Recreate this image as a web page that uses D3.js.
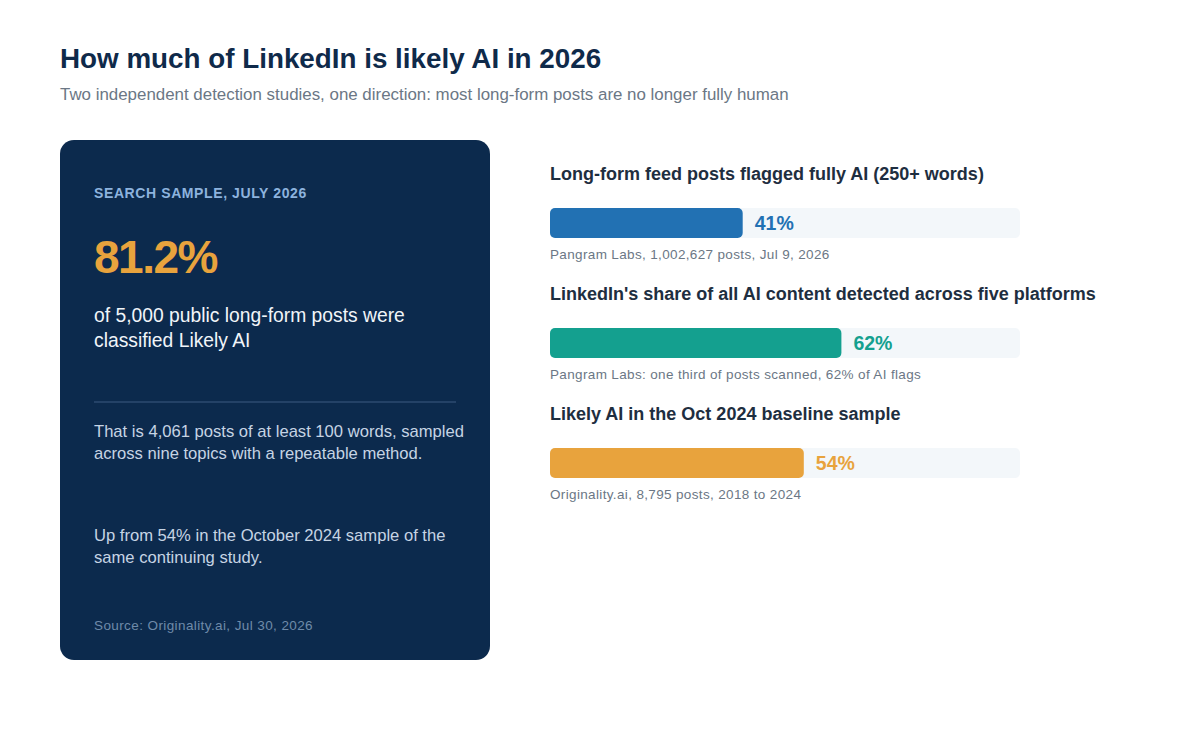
<!DOCTYPE html>
<html><head><meta charset="utf-8">
<script src="https://cdn.jsdelivr.net/npm/d3@7"></script>
<style>body{margin:0;background:#fff;}svg{display:block;font-family:"Liberation Sans",Arial,Helvetica,sans-serif;}</style>
</head><body>
<svg id="c" width="1200" height="750"></svg>
<script>
const titleText = "How much of LinkedIn is likely AI in 2026";
const subtitleText = "Two independent detection studies, one direction: most long-form posts are no longer fully human";
const cardKicker = "SEARCH SAMPLE, JULY 2026";
const cardValue = 81.2;
const cardLines = ["of 5,000 public long-form posts were", "classified Likely AI"];
const cardPara1 = ["That is 4,061 posts of at least 100 words, sampled", "across nine topics with a repeatable method."];
const cardPara2 = ["Up from 54% in the October 2024 sample of the", "same continuing study."];
const cardSource = "Source: Originality.ai, Jul 30, 2026";

const barTitles = ["Long-form feed posts flagged fully AI (250+ words)", "LinkedIn's share of all AI content detected across five platforms", "Likely AI in the Oct 2024 baseline sample"];
const barValues = [41, 62, 54];
const barNotes = ["Pangram Labs, 1,002,627 posts, Jul 9, 2026", "Pangram Labs: one third of posts scanned, 62% of AI flags", "Originality.ai, 8,795 posts, 2018 to 2024"];
const barColors = ["#2271b3", "#14a08f", "#e8a33d"];

const svg = d3.select("#c");
svg.append("text").attr("x",60).attr("y",68).attr("font-size",27.8).attr("font-weight","bold").attr("fill","#0f2a4a").text(titleText);
svg.append("text").attr("x",60).attr("y",100).attr("font-size",16.9).attr("fill","#6b7785").text(subtitleText);

// card
const card = svg.append("g");
card.append("rect").attr("x",60).attr("y",140).attr("width",430).attr("height",520).attr("rx",14).attr("fill","#0c2a4d");
card.append("text").attr("x",94).attr("y",198).attr("font-size",14).attr("font-weight","bold").attr("letter-spacing",0.6).attr("fill","#8db3de").text(cardKicker);
card.append("text").attr("x",94).attr("y",273).attr("font-size",46).attr("font-weight","bold").attr("fill","#e8a33d").attr("letter-spacing",-1.5).text(d3.format(".1f")(cardValue)+"%");
card.selectAll(".l1").data(cardLines).join("text").attr("x",94).attr("y",(d,i)=>322+i*25).attr("font-size",19.3).attr("fill","#f1f5f9").text(d=>d);
card.append("line").attr("x1",94).attr("x2",456).attr("y1",402).attr("y2",402).attr("stroke","#2d4b70").attr("stroke-width",1.5);
card.selectAll(".p1").data(cardPara1).join("text").attr("x",94).attr("y",(d,i)=>437+i*22).attr("font-size",16.6).attr("fill","#c6d4e4").text(d=>d);
card.selectAll(".p2").data(cardPara2).join("text").attr("x",94).attr("y",(d,i)=>541+i*22).attr("font-size",16.6).attr("fill","#c6d4e4").text(d=>d);
card.append("text").attr("x",94).attr("y",630).attr("font-size",13.5).attr("letter-spacing",0.4).attr("fill","#6f8aa9").text(cardSource);

// bars
const x = d3.scaleLinear().domain([0,100]).range([550,1020]);
const y = d3.scaleBand().domain(d3.range(barValues.length)).range([150,510]);
const rows = svg.selectAll(".row").data(barValues).join("g").attr("transform",(d,i)=>`translate(0,${y(i)})`);
rows.append("text").attr("x",550).attr("y",30).attr("font-size",18).attr("font-weight","bold").attr("fill","#1e2e40").text((d,i)=>barTitles[i]);
rows.append("rect").attr("x",x(0)).attr("y",58).attr("width",x(100)-x(0)).attr("height",30).attr("rx",5).attr("fill","#f3f7fa");
rows.append("rect").attr("x",x(0)).attr("y",58).attr("width",d=>x(d)-x(0)).attr("height",30).attr("rx",5).attr("fill",(d,i)=>barColors[i]);
rows.append("text").attr("x",d=>x(d)+12).attr("y",80).attr("font-size",19.5).attr("font-weight","bold").attr("fill",(d,i)=>barColors[i]).text(d=>d+"%");
rows.append("text").attr("x",550).attr("y",109).attr("font-size",13.5).attr("fill","#6b7785").attr("letter-spacing",0.35).text((d,i)=>barNotes[i]);
</script>
</body></html>
